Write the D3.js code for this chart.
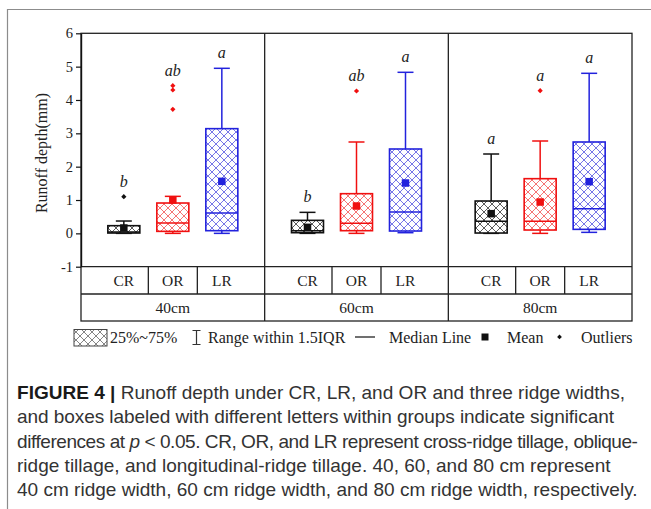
<!DOCTYPE html>
<html>
<head>
<script src="https://cdn.jsdelivr.net/npm/d3@7"></script>
<style>
  body { margin: 0; background: #fff; }
  svg { display: block; }
</style>
</head>
<body>
<script>
// ridge widths (panels) and tillage types (boxes inside a panel)
const groups = ['40cm', '60cm', '80cm'];
const tillages = ['CR', 'OR', 'LR'];
const yTicks = [-1, 0, 1, 2, 3, 4, 5, 6];

// one row per ridge width, columns CR, OR, LR
const whiskerLow = [[0.00, 0.00, 0.00], [0.00, 0.00, 0.02], [0.00, 0.00, 0.03]];
const q1 = [[0.01, 0.06, 0.08], [0.02, 0.08, 0.07], [0.01, 0.10, 0.12]];
const median = [[0.04, 0.31, 0.61], [0.08, 0.30, 0.64], [0.36, 0.36, 0.74]];
const q3 = [[0.23, 0.91, 3.14], [0.39, 1.19, 2.53], [0.97, 1.64, 2.74]];
const whiskerHigh = [[0.37, 1.11, 4.95], [0.63, 2.74, 4.83], [2.38, 2.77, 4.80]];
const means = [[0.16, 1.00, 1.56], [0.18, 0.82, 1.51], [0.59, 0.94, 1.55]];
const outliers = [[[1.10], [4.43, 4.30, 3.72], []], [[], [4.27], []], [[], [4.28], []]];
const letters = [['b', 'ab', 'a'], ['b', 'ab', 'a'], ['a', 'a', 'a']];

const W = 651, H = 509;
const serif = '"Liberation Serif", "Times New Roman", serif';
const colors = { CR: '#111111', OR: '#f01010', LR: '#2222dd' };
const hatchColors = { CR: '#4a4a4a', OR: '#f46464', LR: '#6868e4', legend: '#777777' };

const svg = d3.select('body').append('svg')
  .attr('width', W)
  .attr('height', H);

svg.append('rect').attr('width', W).attr('height', H).attr('fill', '#fff');

// figure frame
svg.append('path')
  .attr('d', `M${W},9.5H7.5V${H}`)
  .attr('fill', 'none')
  .attr('stroke', '#8c8c8c')
  .attr('stroke-width', 1.2);

const defs = svg.append('defs');
Object.keys(hatchColors).forEach(k => {
  const p = defs.append('pattern')
    .attr('id', 'hatch-' + k)
    .attr('patternUnits', 'userSpaceOnUse')
    .attr('width', 8)
    .attr('height', 8);
  p.append('rect').attr('width', 8).attr('height', 8).attr('fill', '#fff');
  p.append('path')
    .attr('d', 'M0,0L8,8M8,0L0,8')
    .attr('stroke', hatchColors[k])
    .attr('stroke-width', 0.9);
});

const plotLeft = 81, plotRight = 632, plotTop = 33.3, plotBottom = 266.7;
const rowMid = 294, rowBottom = 321;

const x = d3.scaleBand().domain(groups).range([plotLeft, plotRight]);
const xi = d3.scalePoint().domain(tillages).range([-49, 49]);
const y = d3.scaleLinear().domain([-1, 6]).range([plotBottom, plotTop]);

const boxW = 32, capW = 16;

// boxes
const boxes = [];
groups.forEach((g, gi) => {
  tillages.forEach((t, ti) => {
    boxes.push({
      g, t,
      lo: whiskerLow[gi][ti], q1: q1[gi][ti], med: median[gi][ti], q3: q3[gi][ti],
      hi: whiskerHigh[gi][ti], mean: means[gi][ti], out: outliers[gi][ti], letter: letters[gi][ti],
      cx: x(g) + x.bandwidth() / 2 + xi(t)
    });
  });
});

const bx = svg.append('g').selectAll('g').data(boxes).enter().append('g');

bx.append('line')
  .attr('x1', d => d.cx).attr('x2', d => d.cx)
  .attr('y1', d => y(d.lo)).attr('y2', d => y(d.hi))
  .attr('stroke', d => colors[d.t]).attr('stroke-width', 1.5);

bx.selectAll('.cap')
  .data(d => [d.lo, d.hi].map(v => ({ v, d })))
  .enter().append('line')
  .attr('class', 'cap')
  .attr('x1', e => e.d.cx - capW / 2).attr('x2', e => e.d.cx + capW / 2)
  .attr('y1', e => y(e.v)).attr('y2', e => y(e.v))
  .attr('stroke', e => colors[e.d.t]).attr('stroke-width', 1.5);

bx.append('rect')
  .attr('x', d => d.cx - boxW / 2)
  .attr('y', d => y(d.q3))
  .attr('width', boxW)
  .attr('height', d => y(d.q1) - y(d.q3))
  .attr('fill', d => `url(#hatch-${d.t})`)
  .attr('stroke', d => colors[d.t])
  .attr('stroke-width', 1.6);

bx.append('line')
  .attr('x1', d => d.cx - boxW / 2).attr('x2', d => d.cx + boxW / 2)
  .attr('y1', d => y(d.med)).attr('y2', d => y(d.med))
  .attr('stroke', d => colors[d.t]).attr('stroke-width', 1.5);

bx.append('rect')
  .attr('x', d => d.cx - 3.75)
  .attr('y', d => y(d.mean) - 3.75)
  .attr('width', 7.5).attr('height', 7.5)
  .attr('fill', d => colors[d.t]);

bx.selectAll('.out')
  .data(d => d.out.map(v => ({ v, d })))
  .enter().append('path')
  .attr('class', 'out')
  .attr('d', e => `M${e.d.cx},${y(e.v) - 2.6}l2.6,2.6l-2.6,2.6l-2.6,-2.6z`)
  .attr('fill', e => colors[e.d.t]);

bx.append('text')
  .attr('x', d => d.cx)
  .attr('y', d => y(d3.max([d.hi, ...d.out])) - 10)
  .attr('text-anchor', 'middle')
  .attr('font-family', serif)
  .attr('font-style', 'italic')
  .attr('font-size', 16)
  .attr('fill', '#222')
  .text(d => d.letter);

// plot frame, panel separators and the category table
const frame = svg.append('g').attr('stroke', '#222').attr('stroke-width', 1.3).attr('fill', 'none');
frame.append('rect').attr('x', plotLeft).attr('y', plotTop).attr('width', plotRight - plotLeft).attr('height', rowBottom - plotTop);
frame.append('line').attr('x1', plotLeft).attr('x2', plotRight).attr('y1', plotBottom).attr('y2', plotBottom);
frame.append('line').attr('x1', plotLeft).attr('x2', plotRight).attr('y1', rowMid).attr('y2', rowMid);
frame.selectAll('.sep').data(groups.slice(1)).enter().append('line')
  .attr('x1', d => x(d)).attr('x2', d => x(d))
  .attr('y1', plotTop).attr('y2', rowBottom);
frame.selectAll('.sub').data(groups).enter().append('g').selectAll('line')
  .data(g => [(xi('CR') + xi('OR')) / 2, (xi('OR') + xi('LR')) / 2].map(o => x(g) + x.bandwidth() / 2 + o))
  .enter().append('line')
  .attr('x1', d => d).attr('x2', d => d)
  .attr('y1', plotBottom).attr('y2', rowMid);

svg.append('g').selectAll('text').data(boxes).enter().append('text')
  .attr('x', d => d.cx)
  .attr('y', 286)
  .attr('text-anchor', 'middle')
  .attr('font-family', serif)
  .attr('font-size', 15.5)
  .attr('fill', '#222')
  .text(d => d.t);

svg.append('g').selectAll('text').data(groups).enter().append('text')
  .attr('x', d => x(d) + x.bandwidth() / 2)
  .attr('y', 313)
  .attr('text-anchor', 'middle')
  .attr('font-family', serif)
  .attr('font-size', 15.5)
  .attr('fill', '#222')
  .text(d => d);

// y axis
const yAxis = svg.append('g')
  .attr('transform', `translate(${plotLeft},0)`)
  .call(d3.axisLeft(y).tickValues(yTicks).tickSize(5).tickSizeOuter(0).tickPadding(3).tickFormat(d => String(d)));
yAxis.select('.domain').attr('stroke', '#111').attr('stroke-width', 1.4);
yAxis.selectAll('.tick line').attr('stroke', '#111').attr('stroke-width', 1.2);
yAxis.selectAll('text').attr('font-family', serif).attr('font-size', 14.5).attr('fill', '#222');

svg.append('text')
  .attr('transform', 'translate(47,153) rotate(-90)')
  .attr('text-anchor', 'middle')
  .attr('font-family', serif)
  .attr('font-size', 16)
  .attr('fill', '#222')
  .text('Runoff depth(mm)');

// legend
const lg = svg.append('g').attr('font-family', serif).attr('font-size', 16).attr('fill', '#222');
lg.append('rect').attr('x', 74).attr('y', 329.5).attr('width', 33).attr('height', 16.5)
  .attr('fill', 'url(#hatch-legend)').attr('stroke', '#444').attr('stroke-width', 1);
lg.append('text').attr('x', 110).attr('y', 343).text('25%~75%');
lg.append('path').attr('d', 'M192.5,330.5H200.5M196.5,330.5V344.5M192.5,344.5H200.5')
  .attr('stroke', '#333').attr('stroke-width', 1.2).attr('fill', 'none');
lg.append('text').attr('x', 208).attr('y', 343).text('Range within 1.5IQR');
lg.append('line').attr('x1', 355).attr('x2', 375).attr('y1', 337).attr('y2', 337)
  .attr('stroke', '#222').attr('stroke-width', 1.3);
lg.append('text').attr('x', 389).attr('y', 343).text('Median Line');
lg.append('rect').attr('x', 481.5).attr('y', 333.5).attr('width', 7).attr('height', 7).attr('fill', '#111');
lg.append('text').attr('x', 507).attr('y', 343).text('Mean');
lg.append('path').attr('d', 'M559.5,334.5l2.4,2.4l-2.4,2.4l-2.4,-2.4z').attr('fill', '#111');
lg.append('text').attr('x', 581).attr('y', 343).text('Outliers');

// caption: each line is a list of [text, style] pieces
const captionLines = [
  [['FIGURE 4 |', 'b'], [' Runoff depth under CR, LR, and OR and three ridge widths,', '']],
  [['and boxes labeled with different letters within groups indicate significant', '']],
  [['differences at ', ''], ['p', 'i'], [' < 0.05. CR, OR, and LR represent cross-ridge tillage, oblique-', '']],
  [['ridge tillage, and longitudinal-ridge tillage. 40, 60, and 80 cm represent', '']],
  [['40 cm ridge width, 60 cm ridge width, and 80 cm ridge width, respectively.', '']]
];
// right ends of the lines that run (nearly) to the margin
const lineEnds = [null, 614, 638, null, 638];
const capX = 17;

const cap = svg.append('g')
  .attr('font-family', '"Liberation Sans", Arial, sans-serif')
  .attr('font-size', 16)
  .attr('fill', '#333');
const lines = captionLines.map((parts, i) => {
  const t = cap.append('text').attr('x', capX).attr('y', 399 + i * 24.3);
  parts.forEach(([s, st]) => {
    const ts = t.append('tspan').text(s);
    if (st === 'b') ts.attr('font-weight', 'bold').attr('fill', '#1a1a1a');
    if (st === 'i') ts.attr('font-style', 'italic');
  });
  return t;
});
// size the font so the last line reaches the margin, then trim the other full lines
const natural = lines[4].node().getComputedTextLength();
cap.attr('font-size', 16 * (lineEnds[4] - capX) / natural);
lines.forEach((l, i) => {
  if (lineEnds[i] === null || i === 4) return;
  const w = l.node().getComputedTextLength();
  const n = l.text().length;
  l.attr('letter-spacing', ((lineEnds[i] - capX - w) / (n - 1)).toFixed(3));
});
</script>
</body>
</html>
